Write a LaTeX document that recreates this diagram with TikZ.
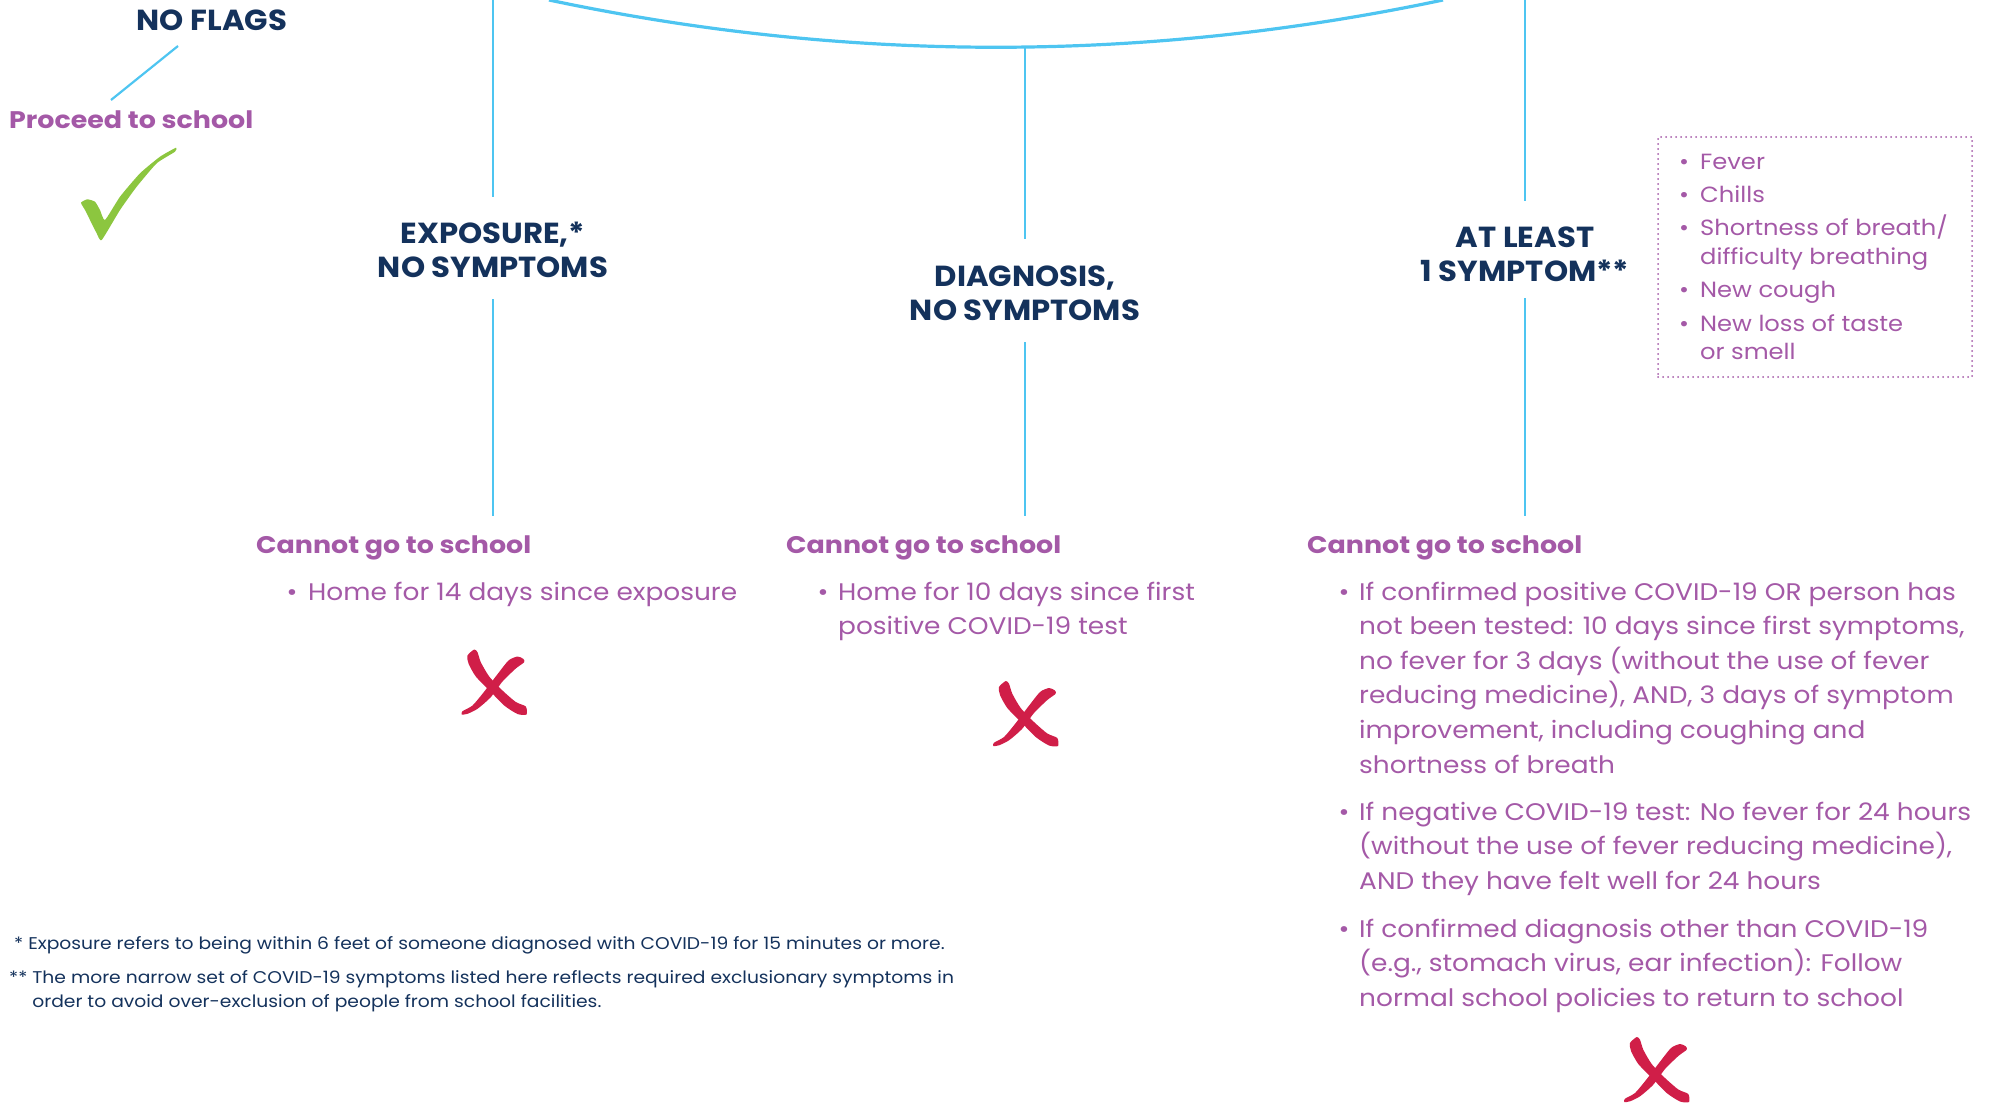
\documentclass[tikz,border=0pt]{standalone}
\usepackage{fontspec}
\setmainfont{Poppins}
\newfontfamily\bodyfont[FakeStretch=1.1]{Poppins}
\newfontfamily\boldfont[FakeStretch=1.12]{Poppins}
\newfontfamily\headfont[FakeStretch=1.06]{Poppins}
\definecolor{navy}{RGB}{20,50,92}
\definecolor{plum}{RGB}{164,89,167}
\definecolor{sky}{RGB}{78,197,241}
\definecolor{crim}{RGB}{208,30,72}
\definecolor{lime}{RGB}{140,198,63}
\newcommand\stackL[2]{\vtop{\baselineskip=#1\lineskiplimit=-100pt\lineskip=0pt\halign{##\hfil\cr#2\crcr}}}
\newcommand\stackC[2]{\vtop{\baselineskip=#1\lineskiplimit=-100pt\lineskip=0pt\halign{\hfil##\hfil\cr#2\crcr}}}
\tikzset{
  head/.style={font=\headfont\fontsize{29}{34}\selectfont\bfseries, text=navy, inner sep=0pt, anchor=base},
  body/.style={font=\bodyfont\fontsize{24}{34.6}\selectfont, text=plum, inner sep=0pt, anchor=base west},
  bul/.style={font=\bodyfont\fontsize{24}{34.6}\selectfont, text=plum, inner sep=0pt, anchor=base},
  small/.style={font=\bodyfont\fontsize{22}{29}\selectfont, text=plum, inner sep=0pt, anchor=base west},
  sbul/.style={font=\bodyfont\fontsize{22}{29}\selectfont, text=plum, inner sep=0pt, anchor=base},
  cannot/.style={font=\boldfont\fontsize{24}{30}\selectfont\bfseries, text=plum, inner sep=0pt, anchor=base west},
  foot/.style={font=\bodyfont\fontsize{17}{24}\selectfont, text=navy, inner sep=0pt, anchor=base west},
  link/.style={draw=sky, line width=2.2pt},
  arcline/.style={draw=sky, line width=3.2pt},
  xmark/.pic={
    \fill[crim] plot[smooth cycle, tension=0.4] coordinates {(-18.3,-36) (-15,-33.3) (-11.7,-23.3) (-3.3,-9) (10,5) (23.3,16.5) (33.3,21) (34,29) (25,28.5) (11.7,20) (-3,5) (-16.7,-9) (-24,-22) (-25,-30)};
    \fill[crim] plot[smooth cycle, tension=0.4] coordinates {(25,-29) (30.7,-26.7) (31.7,-23.3) (23.3,-17) (10,-4) (-2,12) (-15,23.3) (-25,28.3) (-30.7,29) (-30,25.7) (-20,20) (-9,7) (4,-10) (16,-25)};
  }
}
\begin{document}
\begin{tikzpicture}[x=1pt,y=-1pt]
\useasboundingbox (0,0) rectangle (1994,1103);

% ---- top arc and connectors
\coordinate (arcL) at (549,0);
\coordinate (arcR) at (1443,0);
\draw[arcline] (arcL) .. controls (847,63) and (1145,63) .. (arcR);

\coordinate (topL) at (493,0);
\coordinate (midL) at (493,197);
\coordinate (resL) at (493,299);
\coordinate (endL) at (493,516);
\coordinate (topC) at (1025,46);
\coordinate (midC) at (1025,239);
\coordinate (resC) at (1025,342);
\coordinate (endC) at (1025,516);
\coordinate (topR) at (1525,0);
\coordinate (midR) at (1525,201);
\coordinate (resR) at (1525,298);
\coordinate (endR) at (1525,516);

% ---- no flags
\node[head] (noflags) at (212,30) {NO FLAGS};
\node[cannot] (proceed) at (9,128) {Proceed to school};
\coordinate (nfA) at (178,46);
\coordinate (nfB) at (111,100);
\draw[link] (nfA) -- (nfB);
\fill[lime] plot[smooth cycle, tension=0.3] coordinates {(81,202.7) (87.3,199.3) (95,201.7) (100,210) (105,220) (120,196.7) (140,173.3) (160,156.7) (176,147.7) (175,151.7) (156.7,163.3) (136.7,186.7) (120,210) (101.7,240) (96.7,233.3) (90,220) (85,210)};

% ---- headings
\node[head] (exp) at (493,243) {\stackC{34.5pt}{EXPOSURE,*\cr NO SYMPTOMS}};
\node[head] (diag) at (1025,286) {\stackC{34.5pt}{DIAGNOSIS,\cr NO SYMPTOMS}};
\node[head] (sym) at (1525,247) {\stackC{34.5pt}{AT LEAST\cr 1 SYMPTOM**}};

\draw[link] (topL) -- (midL);
\draw[link] (resL) -- (endL);
\draw[link] (topC) -- (midC);
\draw[link] (resC) -- (endC);
\draw[link] (topR) -- (midR);
\draw[link] (resR) -- (endR);

% ---- symptom box
\node[draw=plum, line width=2pt, dash pattern=on 0pt off 5pt, line cap=round, minimum width=314pt, minimum height=240pt, anchor=north west, inner sep=0pt] (symbox) at (1657,136) {};
\node[sbul] (sb1) at (1684,169) {•};
\node[small] (s1) at (1700,169) {Fever};
\node[sbul] (sb2) at (1684,202) {•};
\node[small] (s2) at (1700,202) {Chills};
\node[sbul] (sb3) at (1684,235) {•};
\node[small] (s3) at (1700,235) {\stackL{29pt}{Shortness of breath/\cr difficulty breathing}};
\node[sbul] (sb4) at (1684,297) {•};
\node[small] (s4) at (1700,297) {New cough};
\node[sbul] (sb5) at (1684,331) {•};
\node[small] (s5) at (1700,331) {\stackL{28pt}{New loss of taste\cr or smell}};

% ---- cannot go to school
\node[cannot] (c1) at (256,553) {Cannot go to school};
\node[cannot] (c2) at (786,553) {Cannot go to school};
\node[cannot] (c3) at (1307,553) {Cannot go to school};

\node[bul] (b1) at (292,600) {•};
\node[body] (t1) at (308,600) {Home for 14 days since exposure};

\node[bul] (b2) at (823,600) {•};
\node[body] (t2) at (838,600) {\stackL{34.6pt}{Home for 10 days since first\cr positive COVID-19 test}};

\node[bul] (b3) at (1344,600) {•};
\node[body] (t3) at (1359,600) {\stackL{34.6pt}{If confirmed positive COVID-19 OR person has\cr not been tested: 10 days since first symptoms,\cr no fever for 3 days (without the use of fever\cr reducing medicine), AND, 3 days of symptom\cr improvement, including coughing and\cr shortness of breath}};
\node[bul] (b4) at (1344,820) {•};
\node[body] (t4) at (1359,820) {\stackL{34.6pt}{If negative COVID-19 test: No fever for 24 hours\cr (without the use of fever reducing medicine),\cr AND they have felt well for 24 hours}};
\node[bul] (b5) at (1344,937) {•};
\node[body] (t5) at (1359,937) {\stackL{34.6pt}{If confirmed diagnosis other than COVID-19\cr (e.g., stomach virus, ear infection): Follow\cr normal school policies to return to school}};

% ---- X marks
\pic at (492.5,685.5) {xmark};
\pic at (1024,717) {xmark};
\pic at (1655,1073) {xmark};

% ---- footnotes
\node[foot] (f1) at (14,949) {* Exposure refers to being within 6 feet of someone diagnosed with COVID-19 for 15 minutes or more.};
\node[foot] (f2) at (9,983) {\stackL{24pt}{** The more narrow set of COVID-19 symptoms listed here reflects required exclusionary symptoms in\cr \hphantom{** }order to avoid over-exclusion of people from school facilities.}};
\end{tikzpicture}
\end{document}
